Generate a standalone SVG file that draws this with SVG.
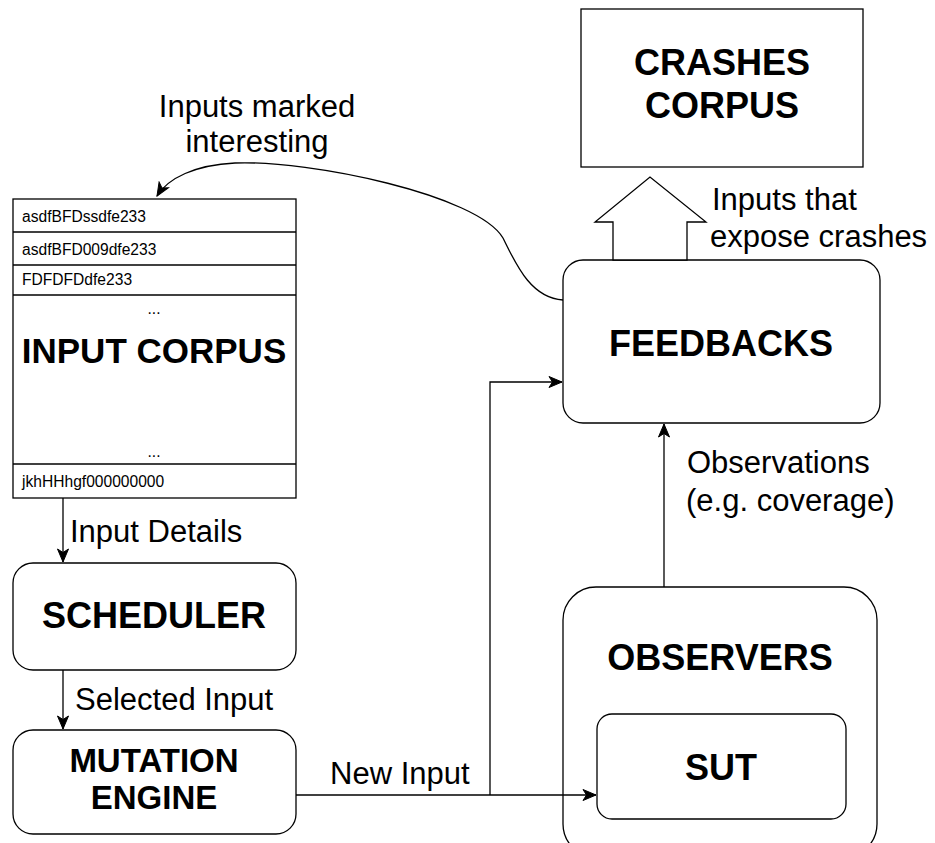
<svg xmlns="http://www.w3.org/2000/svg" width="935" height="843" viewBox="0 0 935 843">
  <style>
    .box { fill: #ffffff; stroke: #000000; stroke-width: 1.3; }
    .edge { fill: none; stroke: #000000; stroke-width: 1.3; }
    .title { font-family: "Liberation Sans", Arial, sans-serif; font-weight: bold; font-size: 36px; fill: #000000; text-anchor: middle; }
    .label { font-family: "Liberation Sans", Arial, sans-serif; font-size: 31px; fill: #000000; }
    .entry { font-family: "Liberation Sans", Arial, sans-serif; font-size: 15.6px; fill: #000000; }
  </style>
  <defs>
    <marker id="arrow" markerUnits="userSpaceOnUse" markerWidth="16" markerHeight="14" viewBox="-14 -7 16 14" refX="0" refY="0" orient="auto">
      <path d="M0,0 L-13,-5.5 L-9.5,0 L-13,5.5 Z" fill="#000000" stroke="#000000" stroke-width="1"/>
    </marker>
  </defs>

  <rect width="935" height="843" fill="#ffffff"/>

  <g id="crashes-corpus">
    <rect class="box" x="581" y="9" width="282" height="158"/>
    <text class="title" x="722" y="75">CRASHES</text>
    <text class="title" x="722" y="118">CORPUS</text>
  </g>

  <g id="input-corpus">
    <rect class="box" x="13" y="199" width="283" height="299"/>
    <line class="edge" x1="13" y1="232" x2="296" y2="232"/>
    <line class="edge" x1="13" y1="265" x2="296" y2="265"/>
    <line class="edge" x1="13" y1="295" x2="296" y2="295"/>
    <line class="edge" x1="13" y1="464" x2="296" y2="464"/>
    <text class="entry" x="22" y="222">asdfBFDssdfe233</text>
    <text class="entry" x="22" y="255">asdfBFD009dfe233</text>
    <text class="entry" x="22" y="285">FDFDFDdfe233</text>
    <text class="entry" x="154" y="314" text-anchor="middle">...</text>
    <text class="title" x="154" y="363" style="font-size:35px">INPUT CORPUS</text>
    <text class="entry" x="154" y="457" text-anchor="middle">...</text>
    <text class="entry" x="22" y="487">jkhHHhgf000000000</text>
  </g>

  <g id="feedbacks">
    <rect class="box" x="563" y="260" width="317" height="163" rx="20" ry="20"/>
    <text class="title" x="721" y="356">FEEDBACKS</text>
  </g>

  <g id="scheduler">
    <rect class="box" x="13" y="563" width="283" height="107" rx="20" ry="20"/>
    <text class="title" x="154" y="628">SCHEDULER</text>
  </g>

  <g id="mutation-engine">
    <rect class="box" x="13" y="730" width="283" height="104" rx="20" ry="20"/>
    <text class="title" x="154" y="772" style="font-size:33px">MUTATION</text>
    <text class="title" x="154" y="809" style="font-size:33px">ENGINE</text>
  </g>

  <g id="observers">
    <rect class="box" x="563" y="587" width="314" height="270" rx="33" ry="33"/>
    <text class="title" x="720" y="670">OBSERVERS</text>
  </g>

  <g id="sut">
    <rect class="box" x="597" y="714" width="249" height="105" rx="15" ry="15"/>
    <text class="title" x="721" y="780">SUT</text>
  </g>

  <!-- connectors, drawn last so they sit over the container boxes -->
  <g id="connectors">
    <!-- feedback loop back into the corpus -->
    <path class="edge" d="M563,300 C530,298 515,262 503,238 C478,195 310,160 235,163 C195,165 168,178 157,196" marker-end="url(#arrow)"/>
    <!-- corpus to scheduler -->
    <line class="edge" x1="63" y1="498" x2="63" y2="562" marker-end="url(#arrow)"/>
    <!-- scheduler to mutation engine -->
    <line class="edge" x1="63" y1="670" x2="63" y2="729" marker-end="url(#arrow)"/>
    <!-- mutation engine to SUT -->
    <polyline class="edge" points="296,795 596,795" marker-end="url(#arrow)"/>
    <!-- branch to feedbacks -->
    <polyline class="edge" points="490,795 490,382 562,382" marker-end="url(#arrow)"/>
    <!-- observers to feedbacks -->
    <line class="edge" x1="664" y1="587" x2="664" y2="424" marker-end="url(#arrow)"/>
    <!-- hollow arrow to crashes corpus -->
    <polygon class="box" points="613,260 613,222 595,222 650,177 706,222 687,222 687,260"/>
    <text class="label" x="257" y="117" text-anchor="middle">Inputs marked</text>
    <text class="label" x="257" y="152" text-anchor="middle">interesting</text>
    <text class="label" x="712" y="210">Inputs that</text>
    <text class="label" x="710" y="247">expose crashes</text>
    <text class="label" x="70" y="542">Input Details</text>
    <text class="label" x="75" y="710">Selected Input</text>
    <text class="label" x="330" y="784">New Input</text>
    <text class="label" x="687" y="473">Observations</text>
    <text class="label" x="686" y="511">(e.g. coverage)</text>
  </g>
</svg>
